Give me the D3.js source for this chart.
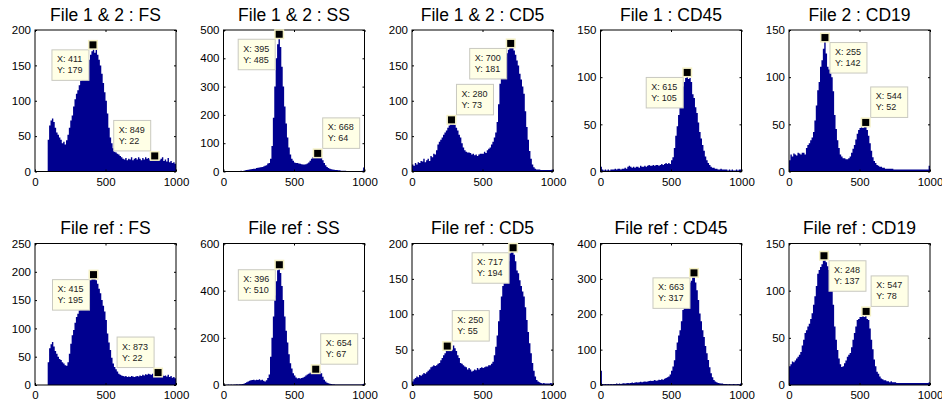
<!DOCTYPE html>
<html><head><meta charset="utf-8">
<script src="https://cdn.jsdelivr.net/npm/d3@7"></script>
<style>
html,body{margin:0;padding:0;background:#fff;}
svg{display:block;font-family:"Liberation Sans",Arial,Helvetica,sans-serif;}
</style></head>
<body><svg id="c" width="942" height="407"></svg>
<script>
// ---------- DATA (bin width 10, bins start at 0,10,...,990) ----------
const titles = ["File 1 & 2 : FS","File 1 & 2 : SS","File 1 & 2 : CD5","File 1 : CD45","File 2 : CD19",
                "File ref : FS","File ref : SS","File ref : CD5","File ref : CD45","File ref : CD19"];
const binStarts = d3.range(0, 1000, 10);
const xTicks = [0, 500, 1000];
const yMaxes = [200, 500, 200, 150, 150, 250, 600, 200, 400, 150];
const yTickSteps = [50, 100, 50, 50, 50, 50, 200, 50, 100, 50];

const fs12 = [0,0,0,0,0,0,0,0,0,45, 65,72,75,70,62,55,52,48,45,40, 42,38,44,52,62,72,79,92,102,110,
  115,122,128,131,135,140,146,150,158,165, 170,179,168,172,165,158,150,138,125,112, 100,82,62,48,40,33,28,27,25,24,
  22,20,18,17,19,16,18,17,20,16, 18,19,17,20,18,16,19,17,20,18, 19,17,20,18,22,21,17,19,16,18, 20,15,17,14,19,13,15,12,13,11];
const ss12 = [2,1,1,1,2,1,1,2,2,1, 2,2,3,2,3,4,5,6,7,8, 9,10,10,12,13,14,15,16,18,20,
  22,28,30,45,90,190,300,400,450,485, 440,370,300,230,170,120,85,60,45,38, 32,30,30,28,27,26,25,25,26,28,
  32,38,45,50,52,58,62,64,56,48, 40,30,22,16,12,10,8,7,6,5, 5,4,4,3,3,3,3,2,2,2, 2,2,2,2,2,2,2,2,3,14];
const cd5_12 = [10,8,12,10,13,12,15,14,18,13, 16,18,15,22,20,25,24,30,38,42, 45,48,52,55,58,62,65,68,73,68,
  66,62,58,52,48,40,34,30,28,27, 27,26,24,25,23,24,22,24,25,25, 25,28,26,30,32,34,38,42,48,55,
  70,95,124,140,152,157,162,167,172,176, 181,176,171,165,157,150,138,130,120,110, 85,63,45,29,18,10,6,4,3,3, 3,2,2,2,2,2,2,2,2,3];
const cd45_1 = [5,2,1,2,1,2,1,2,2,2, 3,2,3,3,2,3,3,4,3,5, 6,5,4,5,4,5,5,4,6,5,
  5,6,5,6,7,6,6,7,6,7, 7,6,7,8,7,8,9,8,9,8, 12,15,25,38,48,60,68,80,90,95,
  99,105,98,99,95,82,78,68,62,52, 42,35,28,22,16,12,9,7,5,4, 4,3,3,2,2,3,2,2,2,2, 1,2,1,2,1,1,2,1,2,2];
const cd19_2 = [12,18,16,19,18,17,20,19,18,20, 20,18,25,28,30,33,36,42,54,70, 86,95,111,118,130,142,125,111,108,104,
  100,85,60,45,33,25,18,16,14,14, 13,13,14,16,20,24,28,34,40,44, 46,47,46,48,52,44,38,30,22,15,
  11,9,7,6,5,5,4,4,3,3, 3,3,3,3,2,2,2,2,2,2, 2,2,2,2,2,2,2,2,2,2, 2,2,2,2,2,2,2,2,2,6];
const fsRef = [0,0,0,0,0,0,0,0,0,40, 65,72,76,68,60,55,50,46,44,40, 38,35,34,40,55,73,88,97,110,120,
  126,132,138,145,152,156,165,173,180,185, 188,195,190,185,179,170,162,150,140,130, 115,91,75,62,48,38,32,28,24,20,
  18,17,16,15,16,14,15,14,16,15, 14,15,16,15,17,16,18,17,19,18, 20,19,18,20,19,21,18,22,19,17, 18,16,17,15,18,14,16,13,14,12];
const ssRef = [2,1,1,2,1,2,1,2,2,3, 2,3,3,4,5,8,12,15,18,20, 21,22,20,22,21,24,20,22,18,15,
  20,30,45,120,200,290,380,440,487,510, 475,420,360,290,230,180,130,92,70,50, 40,32,28,30,28,30,32,35,40,45,
  48,52,55,58,62,67,60,62,58,50, 35,22,15,10,7,5,4,3,3,2, 2,2,2,2,2,2,2,2,2,2, 2,2,2,2,2,2,2,2,3,5];
const cd5Ref = [5,8,10,12,11,14,13,15,17,16, 18,20,22,25,26,28,27,28,30,31, 35,38,42,45,48,55,52,48,50,56,
  52,48,42,38,31,30,28,26,25,22, 24,22,19,20,22,21,24,22,24,25, 24,25,26,26,28,28,30,33,42,54,
  70,90,106,125,140,150,160,167,175,186, 188,194,184,175,162,158,148,140,132,125, 110,92,75,59,45,31,20,12,7,5, 4,3,2,3,2,2,2,2,3,2];
const cd45Ref = [40,3,2,3,2,3,2,3,2,3, 3,4,3,4,3,4,5,4,5,6, 5,6,7,6,7,8,7,8,9,8,
  9,10,9,10,11,12,11,12,14,12, 13,15,14,16,15,18,20,22,24,30, 40,52,70,99,120,140,155,180,212,230,
  249,262,278,290,295,306,317,290,268,240, 202,180,155,136,110,90,71,50,33,22, 14,10,8,6,5,4,4,3,3,3, 2,3,2,2,3,2,2,3,2,4];
const cd19Ref = [20,22,25,24,26,28,30,32,35,42, 48,55,58,62,65,70,76,85,94,105, 118,122,125,128,132,137,130,126,122,115,
  104,85,62,48,37,28,22,19,20,23, 26,30,32,34,40,48,55,62,69,70, 72,72,74,72,78,70,69,60,48,38,
  27,20,14,12,9,7,6,5,5,4, 4,3,4,3,3,3,2,2,2,2, 2,2,2,2,2,2,2,2,2,2, 2,2,2,2,2,2,2,2,2,3];
const allCounts = [fs12, ss12, cd5_12, cd45_1, cd19_2, fsRef, ssRef, cd5Ref, cd45Ref, cd19Ref];

// data tips: X and Y values per panel
const tipX = [[411,849],[395,668],[700,280],[615],[255,544],[415,873],[396,654],[717,250],[663],[248,547]];
const tipY = [[179,22],[485,64],[181,73],[105],[142,52],[195,22],[510,67],[194,55],[317],[137,78]];
// ---------- LAYOUT ----------
const tipSide = [["lb","la"],["lb","ra"],["lb","ra"],["lb"],["rb","ra"],["lb","la"],["lb","ra"],["lb","ra"],["lb"],["rb","ra"]];
const colLeft = c => 35 + c * 188.5;
const rowTop = [30, 243.5];
const W = 141, H = 141.5;
const barColor = "#00008f";

const svg = d3.select("#c");
const defs = svg.append("defs");

allCounts.forEach((counts, p) => {
  const row = Math.floor(p / 5), col = p % 5;
  const L = colLeft(col), T = rowTop[row];
  const g = svg.append("g").attr("transform", `translate(${L},${T})`);
  const x = d3.scaleLinear().domain([0, 1000]).range([0, W]);
  const y = d3.scaleLinear().domain([0, yMaxes[p]]).range([H, 0]);

  defs.append("clipPath").attr("id", "clip" + p)
    .append("rect").attr("width", W).attr("height", H);

  const pts = binStarts.map((b, i) => ({x: b, v: counts[i]}));
  pts.push({x: 1000, v: counts[counts.length - 1]});
  const area = d3.area().curve(d3.curveStepAfter)
    .x(d => x(d.x)).y0(y(0)).y1(d => y(d.v));
  g.append("path").datum(pts).attr("clip-path", `url(#clip${p})`)
    .attr("d", area).attr("fill", barColor).attr("stroke", "none");

  const yt = d3.range(0, yMaxes[p] + 1, yTickSteps[p]);
  const tl = 2;
  const axL = d3.axisLeft(y).tickValues(yt).tickSizeInner(-tl).tickSizeOuter(0).tickPadding(4).tickFormat(d3.format("d"));
  const axR = d3.axisRight(y).tickValues(yt).tickSizeInner(-tl).tickSizeOuter(0).tickFormat("");
  const axB = d3.axisBottom(x).tickValues(xTicks).tickSizeInner(-tl).tickSizeOuter(0).tickPadding(6).tickFormat(d3.format("d"));
  const axT = d3.axisTop(x).tickValues(xTicks).tickSizeInner(-tl).tickSizeOuter(0).tickFormat("");
  g.append("g").call(axL);
  g.append("g").attr("transform", `translate(${W},0)`).call(axR);
  g.append("g").attr("transform", `translate(0,${H})`).call(axB);
  g.append("g").call(axT);
  g.selectAll(".domain").remove();
  g.selectAll(".tick line").attr("stroke", "#000").attr("stroke-width", 1);
  g.selectAll(".tick text").attr("fill", "#000").style("font-size", "11.5px")
    .style("font-family", '"Liberation Sans",Arial,Helvetica,sans-serif');
  g.append("rect").attr("x", 0).attr("y", 0).attr("width", W).attr("height", H)
    .attr("fill", "none").attr("stroke", "#000").attr("stroke-width", 1);

  g.append("text").attr("x", W / 2).attr("y", -9.5).attr("text-anchor", "middle")
    .style("font-size", "17.5px").attr("fill", "#000").text(titles[p]);

  // data tips
  tipX[p].forEach((tx, k) => {
    const ty = tipY[p][k];
    const mx = x(tx), my = y(ty);
    const side = tipSide[p][k];
    const bw = 37, bh = 30.5, off = 4;
    const bx = side[0] === "l" ? mx - off - bw : mx + off + 1;
    const by = side[1] === "b" ? my + off + 1 : my - off - 1 - bh;
    const tg = g.append("g");
    tg.append("rect").attr("x", bx).attr("y", by).attr("width", bw).attr("height", bh)
      .attr("fill", "#ffffe6").attr("stroke", "#c9c9c0").attr("stroke-width", 1);
    tg.append("text").attr("x", bx + 5).attr("y", by + 12.5).style("font-size", "9px")
      .attr("fill", "#222").text("X: " + tx);
    tg.append("text").attr("x", bx + 5).attr("y", by + 23.5).style("font-size", "9px")
      .attr("fill", "#222").text("Y: " + ty);
    tg.append("rect").attr("x", mx - 5).attr("y", my - 5).attr("width", 10).attr("height", 10)
      .attr("fill", "#f4f0c4");
    tg.append("rect").attr("x", mx - 3.5).attr("y", my - 3.5).attr("width", 7).attr("height", 7)
      .attr("fill", "#000");
  });
});
</script></body></html>
